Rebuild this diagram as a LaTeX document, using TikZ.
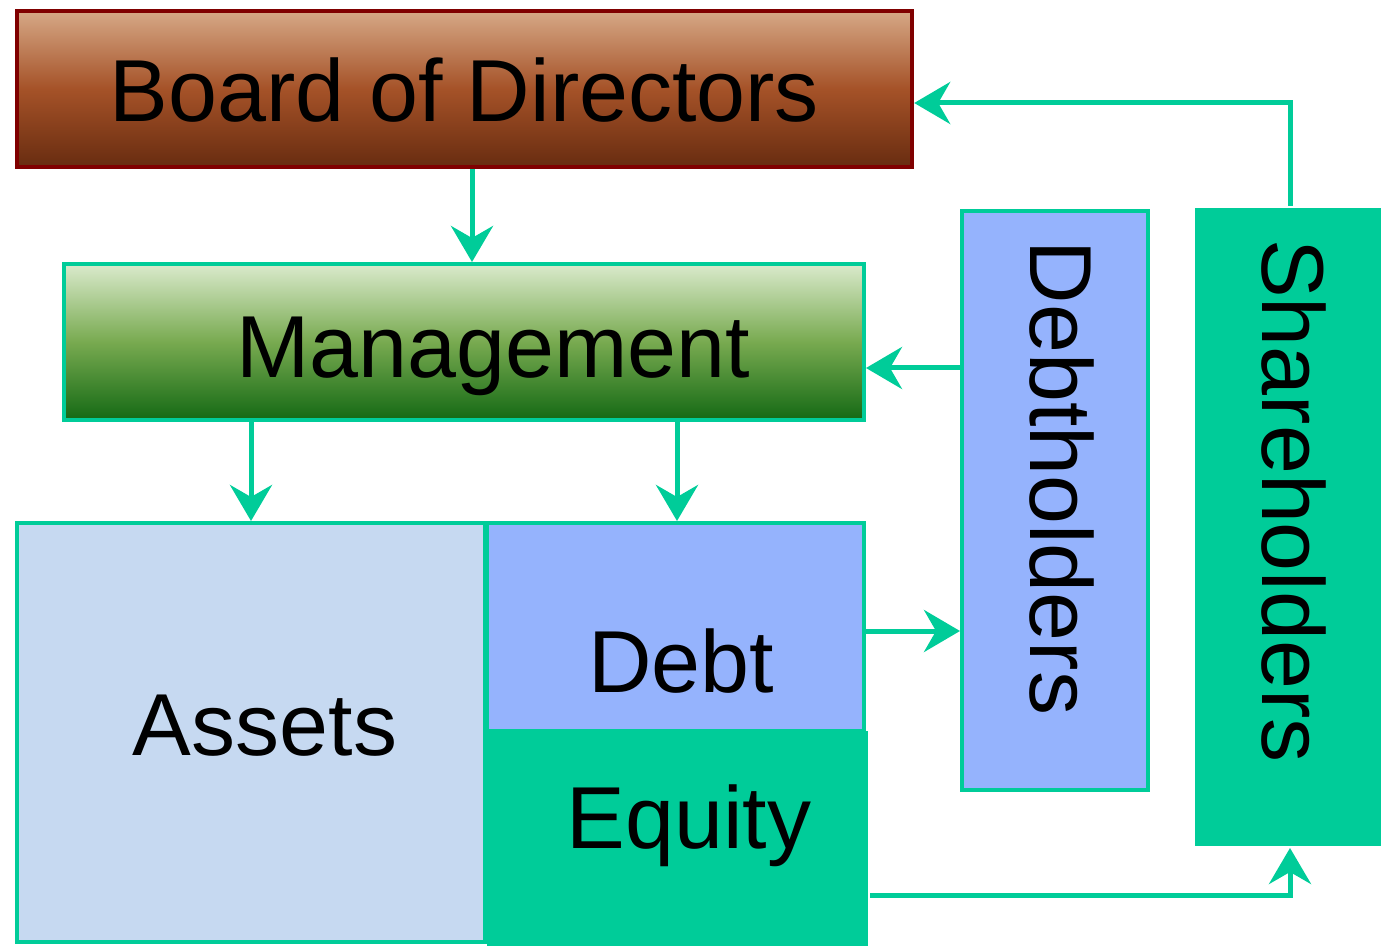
\documentclass[tikz,border=0pt]{standalone}
\usepackage{fontspec}
\setmainfont{Liberation Sans}
\usetikzlibrary{arrows.meta}
\definecolor{teal}{RGB}{0,204,153}
\definecolor{darkred}{RGB}{128,0,0}
\definecolor{btop}{RGB}{214,168,134}
\definecolor{bmid}{RGB}{165,82,40}
\definecolor{bbot}{RGB}{104,44,16}
\definecolor{mtop}{RGB}{218,234,204}
\definecolor{mmid}{RGB}{120,170,80}
\definecolor{mbot}{RGB}{20,105,20}
\definecolor{assetc}{RGB}{198,217,241}
\definecolor{debtc}{RGB}{149,179,253}
\tikzset{
  box/.style={rectangle, inner sep=0pt, line width=2pt},
  lbl/.style={font=\fontsize{44}{50}\selectfont, inner sep=0pt, anchor=base},
  conn/.style={draw=teal, line width=2.5pt, -{Stealth[length=18pt,width=21pt,inset=6pt]}},
  line/.style={draw=teal, line width=2.5pt}
}
\begin{document}
\begin{tikzpicture}[x=0.5pt,y=-0.5pt]
\useasboundingbox (0,0) rectangle (1381,946);
% boxes
\node[box, draw=darkred, line width=2.2pt, top color=btop, bottom color=bbot, middle color=bmid, minimum width=447.5pt, minimum height=78pt] (board) at (464.5,89) {};
\node[box, draw=teal, top color=mtop, bottom color=mbot, middle color=mmid, minimum width=400pt, minimum height=78pt] (mgmt) at (464,342) {};
\node[box, draw=teal, fill=assetc, minimum width=234pt, minimum height=209.5pt] (assets) at (251,732.5) {};
\node[box, draw=none, fill=teal, minimum width=190.5pt, minimum height=107.5pt] (equity) at (677.5,838.5) {};
\node[box, draw=teal, fill=debtc, minimum width=188.5pt, minimum height=104pt] (debt) at (675.5,627) {};
\node[box, draw=teal, fill=debtc, minimum width=93pt, minimum height=289.5pt] (debth) at (1055,500.5) {};
\node[box, draw=none, fill=teal, minimum width=93pt, minimum height=319pt] (shareh) at (1288,527) {};
% labels
\node[lbl] (tboard) at (464.5,122) {Board of Directors};
\node[lbl] (tmgmt) at (493,378) {Management};
\node[lbl] (tassets) at (265,755) {Assets};
\node[lbl] (tdebt) at (681,692) {Debt};
\node[lbl] (tequity) at (689,848) {Equity};
\node[lbl, rotate=-90] (tdebth) at (1030,478) {Debtholders};
\node[lbl, rotate=-90] (tshareh) at (1262,501) {Shareholders};
% coordinates for bends
\coordinate (s1) at (1290,103);
\coordinate (e1) at (1290,895);
% connectors
\draw[conn] (board.south -| 472,0) -- (mgmt.north -| 472,0);
\draw[conn] (mgmt.south -| 251,0) -- (assets.north -| 251,0);
\draw[conn] (mgmt.south -| 677,0) -- (debt.north -| 677,0);
\draw[conn] (debth.west |- 0,368) -- (mgmt.east |- 0,368);
\draw[conn] (debt.east |- 0,631) -- (debth.west |- 0,631);
\draw[conn] (shareh.north -| s1) -- (s1) -- (board.east |- s1);
\draw[conn] (equity.east |- e1) -- (e1) -- (shareh.south -| e1);
\end{tikzpicture}
\end{document}
